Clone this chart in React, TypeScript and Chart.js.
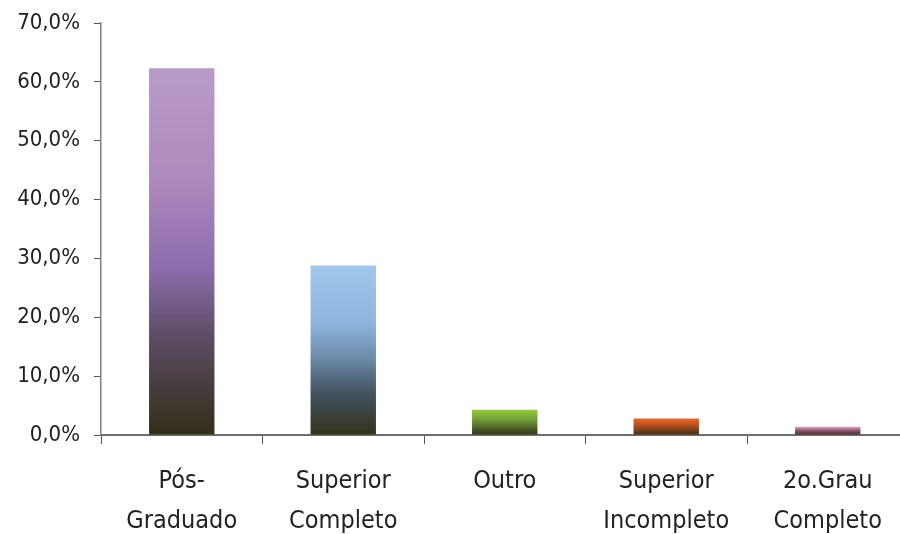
import React, { useEffect, useRef } from "react";
import { Chart, registerables } from "chart.js";

Chart.register(...registerables);

// Escolaridade dos respondentes (%)
const categories: string[][] = [
  ["Pós-", "Graduado"],
  ["Superior", "Completo"],
  ["Outro"],
  ["Superior", "Incompleto"],
  ["2o.Grau", "Completo"],
];
const values: number[] = [62.3, 28.8, 4.3, 2.8, 1.4];
const yTicks: number[] = [0, 10, 20, 30, 40, 50, 60, 70];

// Each bar fades from its own colour at the top into a dark olive base
const barStops: [number, string][][] = [
  [[0, "#b99bc9"], [0.3, "#ae89bd"], [0.54, "#8e6dae"], [0.72, "#5f4e69"], [0.87, "#453d3d"], [1, "#332f18"]],
  [[0, "#a0c8ec"], [0.35, "#8db4dc"], [0.55, "#6b8aa8"], [0.75, "#445361"], [1, "#343219"]],
  [[0, "#97cc3a"], [0.35, "#75a23a"], [1, "#343219"]],
  [[0, "#f26522"], [0.35, "#c0551f"], [1, "#35301a"]],
  [[0, "#f29ac6"], [0.45, "#8c5a70"], [1, "#3a2e20"]],
];

const FONT = "'DejaVu Sans Condensed', 'DejaVu Sans', sans-serif";

export default function App() {
  const canvasRef = useRef<HTMLCanvasElement | null>(null);

  useEffect(() => {
    document.body.style.overflow = "hidden";
    const canvas = canvasRef.current;
    if (!canvas) return;
    const chart = new Chart(canvas, {
      type: "bar",
      data: {
        labels: categories,
        datasets: [
          {
            data: values,
            backgroundColor: (ctx: any) => {
              const c = ctx.chart;
              const i = ctx.dataIndex;
              const stops = barStops[i] || barStops[0];
              if (!c.chartArea || !c.scales.y) return stops[0][1];
              const top = c.scales.y.getPixelForValue(values[i]);
              const bottom = c.scales.y.getPixelForValue(0);
              const g = c.ctx.createLinearGradient(0, top, 0, bottom);
              stops.forEach(([o, col]) => g.addColorStop(o, col));
              return g;
            },
            borderWidth: 0,
            barPercentage: 0.405,
            categoryPercentage: 1,
          },
        ],
      },
      options: {
        responsive: false,
        animation: false,
        layout: { padding: { top: 23, right: 1.5, left: 0, bottom: 0 } },
        plugins: {
          legend: { display: false },
          tooltip: { enabled: false },
        },
        scales: {
          x: {
            grid: {
              display: true,
              drawOnChartArea: false,
              drawTicks: true,
              tickLength: 9,
              color: "#555555",
              offset: true,
            },
            border: { display: true, color: "#6e6e6e", width: 2 },
            ticks: {
              color: "#222222",
              font: { family: FONT, size: 25, lineHeight: 1.6 },
              padding: 17,
              maxRotation: 0,
              autoSkip: false,
            },
            afterFit: (s: any) => {
              s.height = 99;
              s.paddingLeft = 0;
              s.paddingRight = 0;
            },
          },
          y: {
            min: 0,
            max: 70,
            afterBuildTicks: (s: any) => {
              s.ticks = yTicks.map((v) => ({ value: v }));
            },
            grid: {
              display: true,
              drawOnChartArea: false,
              drawTicks: true,
              tickLength: 7,
              color: "#555555",
            },
            border: { display: true, color: "#808080", width: 1.5 },
            ticks: {
              color: "#222222",
              font: { family: FONT, size: 22 },
              padding: 14,
              callback: (v: any) => Number(v).toFixed(1).replace(".", ",") + "%",
            },
            afterFit: (s: any) => {
              s.width = 101;
              s.paddingTop = 0;
              s.paddingBottom = 0;
            },
          },
        },
      },
    });
    return () => chart.destroy();
  }, []);

  return (
    <div style={{ position: "absolute", left: 0, top: 0, width: 910, height: 534, background: "#ffffff" }}>
      <canvas ref={canvasRef} width={910} height={534} />
    </div>
  );
}
